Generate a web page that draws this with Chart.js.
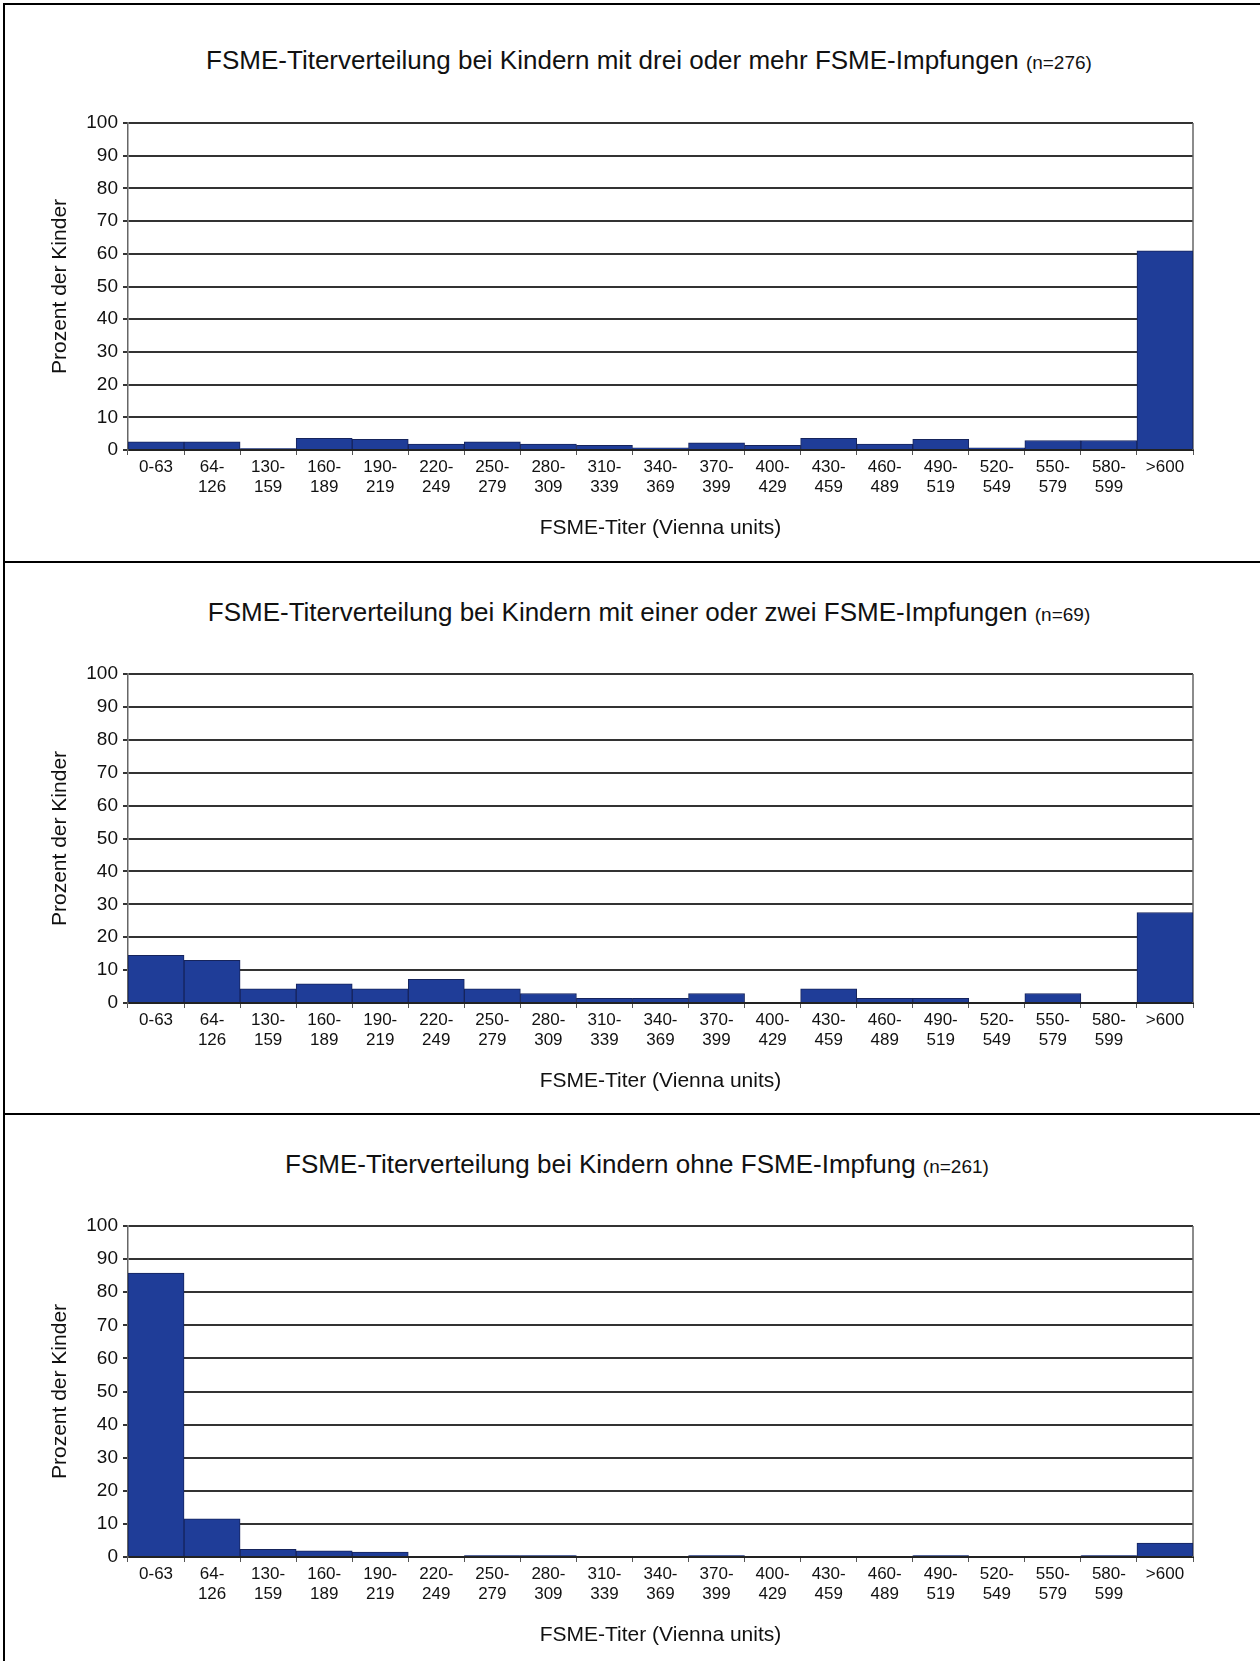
<!DOCTYPE html>
<html>
<head>
<meta charset="utf-8">
<script src="https://cdn.jsdelivr.net/npm/chart.js@4.4.1/dist/chart.umd.min.js"></script>
<style>
  html, body { margin: 0; padding: 0; background: #fff; }
  body { width: 1260px; height: 1661px; position: relative; overflow: hidden;
         font-family: "Liberation Sans", Arial, sans-serif; color: #111; }
  .rule { position: absolute; background: #000; }
  .title { position: absolute; left: 0; width: 1298px; height: 30px; line-height: 30px;
           text-align: center; white-space: nowrap; font-size: 26px; }
  .title small { font-size: 19px; }
  canvas { position: absolute; left: 0; }
</style>
</head>
<body>
<div class="rule" style="left:3px;top:3px;width:1257px;height:2px"></div>
<div class="rule" style="left:3px;top:3px;width:2px;height:1658px"></div>
<div class="rule" style="left:3px;top:561px;width:1257px;height:2px"></div>
<div class="rule" style="left:3px;top:1113px;width:1257px;height:2px"></div>

<div class="title" style="top:45px">FSME-Titerverteilung bei Kindern mit drei oder mehr FSME-Impfungen <small>(n=276)</small></div>
<div class="title" style="top:597px">FSME-Titerverteilung bei Kindern mit einer oder zwei FSME-Impfungen <small>(n=69)</small></div>
<div class="title" style="top:1149px;left:-12px">FSME-Titerverteilung bei Kindern ohne FSME-Impfung <small>(n=261)</small></div>

<canvas id="dreiOderMehr"></canvas>
<canvas id="einOderZwei"></canvas>
<canvas id="ohneImpfung"></canvas>

<script>
// Titer classes (Vienna units)
const titerBins = [
    "0-63", ["64-", "126"], ["130-", "159"], ["160-", "189"], ["190-", "219"],
    ["220-", "249"], ["250-", "279"], ["280-", "309"], ["310-", "339"], ["340-", "369"],
    ["370-", "399"], ["400-", "429"], ["430-", "459"], ["460-", "489"], ["490-", "519"],
    ["520-", "549"], ["550-", "579"], ["580-", "599"], ">600",
];

// Prozent der Kinder per class
const dreiOderMehr = [2.5, 2.5, 0.4, 3.6, 3.3, 1.8, 2.5, 1.8, 1.4, 0.7, 2.2, 1.4, 3.6, 1.8, 3.3, 0.7, 2.9, 2.9, 60.9];
const einOderZwei = [14.5, 13.0, 4.3, 5.8, 4.3, 7.2, 4.3, 2.9, 1.4, 1.4, 2.9, 0, 4.3, 1.4, 1.4, 0, 2.9, 0, 27.5];
const ohneImpfung = [85.8, 11.5, 2.3, 1.9, 1.5, 0, 0.4, 0.4, 0, 0, 0.4, 0, 0, 0, 0.4, 0, 0, 0.4, 4.2];

const yTicks = { min: 0, max: 100, step: 10 };

const FONT = "'Liberation Sans', Arial, sans-serif";

// right edge of the plot box
const plotFrame = {
    id: "plotFrame",
    beforeDatasetsDraw(chart) {
        const { ctx, chartArea: a } = chart;
        ctx.save();
        ctx.strokeStyle = "#666";
        ctx.lineWidth = 1.5;
        ctx.beginPath();
        ctx.moveTo(a.right, a.top);
        ctx.lineTo(a.right, a.bottom);
        ctx.stroke();
        ctx.restore();
    },
};

function drawPanel(id, values, plotTop, plotBottom) {
    const padTop = 40;
    const xAxisHeight = 100;
    const canvas = document.getElementById(id);
    canvas.width = 1260;
    canvas.height = padTop + (plotBottom - plotTop) + xAxisHeight;
    canvas.style.top = plotTop - padTop + "px";

    new Chart(canvas, {
        type: "bar",
        data: {
            labels: titerBins,
            datasets: [
                {
                    data: values,
                    backgroundColor: "#1f3d98",
                    borderColor: "#16245c",
                    borderWidth: 1,
                    barPercentage: 1,
                    categoryPercentage: 1,
                },
            ],
        },
        options: {
            responsive: false,
            animation: false,
            devicePixelRatio: 1,
            layout: { padding: { top: padTop, right: 67, left: 0, bottom: 0 } },
            plugins: {
                legend: { display: false },
                tooltip: { enabled: false },
            },
            scales: {
                x: {
                    afterFit: (scale) => { scale.height = xAxisHeight; },
                    grid: { drawOnChartArea: false, color: "#555", tickLength: 5 },
                    border: { color: "#222", width: 2 },
                    ticks: {
                        color: "#111",
                        font: { family: FONT, size: 17 },
                        padding: 2,
                        maxRotation: 0,
                        autoSkip: false,
                    },
                    title: {
                        display: true,
                        text: "FSME-Titer (Vienna units)",
                        color: "#111",
                        font: { family: FONT, size: 21 },
                        padding: { top: 0, bottom: 9 },
                    },
                },
                y: {
                    min: yTicks.min,
                    max: yTicks.max,
                    afterFit: (scale) => { scale.width = 128; },
                    grid: { color: "#333", lineWidth: 2, tickLength: 5 },
                    border: { color: "#666", width: 1.5 },
                    ticks: {
                        stepSize: yTicks.step,
                        color: "#111",
                        font: { family: FONT, size: 19 },
                        padding: 5,
                    },
                    title: {
                        display: true,
                        text: "Prozent der Kinder",
                        color: "#111",
                        font: { family: FONT, size: 21 },
                        padding: { top: 48, bottom: 0 },
                    },
                },
            },
        },
        plugins: [plotFrame],
    });
}

drawPanel("dreiOderMehr", dreiOderMehr, 123, 450);
drawPanel("einOderZwei", einOderZwei, 674, 1003);
drawPanel("ohneImpfung", ohneImpfung, 1226, 1557);
</script>
</body>
</html>
